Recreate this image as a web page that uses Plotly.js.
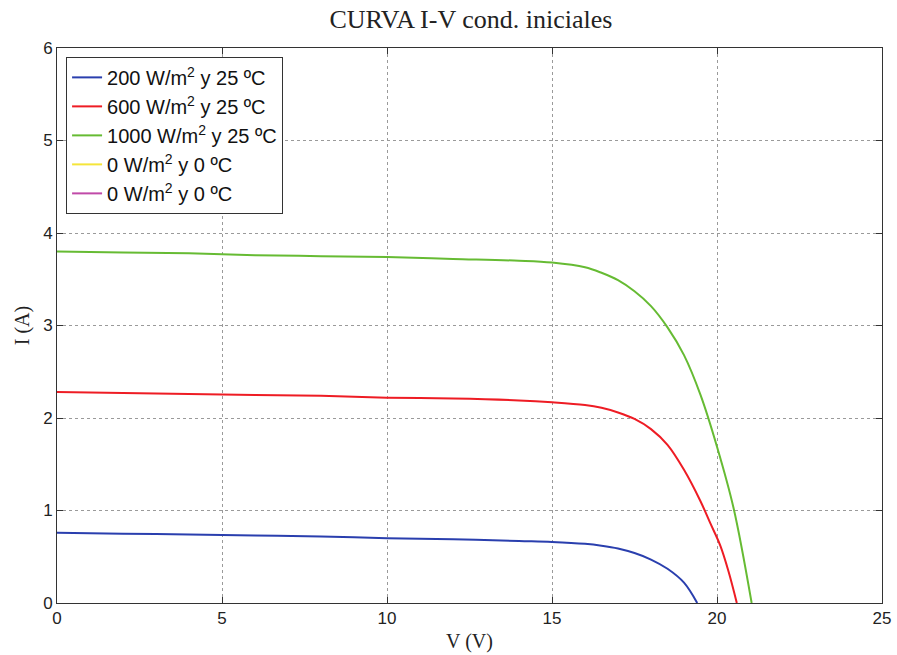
<!DOCTYPE html>
<html>
<head>
<meta charset="utf-8">
<script src="https://cdn.plot.ly/plotly-3.0.1.min.js"></script>
<style>html,body{margin:0;padding:0;background:#fff;}#chart{width:897px;height:655px;}</style>
</head>
<body>
<div id="chart"></div>
<script>
var seriesNames = ["200 W/m<sup>2</sup> y 25 ºC", "600 W/m<sup>2</sup> y 25 ºC", "1000 W/m<sup>2</sup> y 25 ºC", "0 W/m<sup>2</sup> y 0 ºC", "0 W/m<sup>2</sup> y 0 ºC"];
var seriesColors = ["#2a3fae", "#ee1c24", "#66bb33", "#f5e53a", "#c04aa8"];

var v200 = [0, 2, 4, 6, 8, 10, 12, 14, 15, 16, 16.5, 17, 17.5, 18, 18.5, 19, 19.4];
var i200 = [0.76, 0.75, 0.74, 0.73, 0.72, 0.70, 0.69, 0.67, 0.66, 0.64, 0.62, 0.59, 0.54, 0.47, 0.37, 0.22, 0.0];

var v600 = [0, 2, 4, 6, 8, 10, 12, 14, 15, 16, 16.5, 17, 17.5, 18, 18.5, 19, 19.5, 19.8, 20.1, 20.35, 20.6];
var i600 = [2.28, 2.27, 2.26, 2.25, 2.24, 2.22, 2.21, 2.19, 2.17, 2.14, 2.11, 2.06, 1.99, 1.88, 1.71, 1.44, 1.10, 0.86, 0.62, 0.34, 0.0];

var v1000 = [0, 2, 4, 6, 8, 10, 12, 14, 15, 16, 16.5, 17, 17.5, 18, 18.5, 19, 19.5, 20, 20.5, 21.05];
var i1000 = [3.80, 3.79, 3.78, 3.76, 3.75, 3.74, 3.72, 3.70, 3.68, 3.63, 3.57, 3.49, 3.37, 3.21, 2.98, 2.68, 2.25, 1.69, 1.03, 0.0];

// zero-irradiance series: I = 0 A, lying outside the visible window
var vZero = [-2, -1];
var iZero = [-1, -1];

var xs = [v200, v600, v1000, vZero, vZero];
var ys = [i200, i600, i1000, iZero, iZero];

var traces = xs.map(function (x, k) {
  return {
    type: "scatter", mode: "lines", x: x, y: ys[k], name: seriesNames[k],
    line: {color: seriesColors[k], width: 2, shape: "spline", smoothing: 1}
  };
});

var axisCommon = {
  showline: true, linecolor: "#333", linewidth: 1, mirror: "ticks",
  ticks: "inside", ticklen: 6, tickcolor: "#333",
  showgrid: true, gridcolor: "#9a9a9a", griddash: "dot", gridwidth: 1,
  zeroline: false,
  tickfont: {family: "Liberation Sans, Arial, sans-serif", size: 17, color: "#222"}
};

var layout = {
  width: 897, height: 655,
  margin: {l: 57, r: 15, t: 48, b: 52},
  paper_bgcolor: "#fff", plot_bgcolor: "#fff",
  title: {text: "CURVA I-V cond. iniciales", x: 0.525, xanchor: "center", y: 0.985, yanchor: "top",
    font: {family: "Liberation Serif, Times New Roman, serif", size: 26, color: "#222"}},
  xaxis: Object.assign({}, axisCommon, {range: [0, 25], dtick: 5,
    title: {text: "V (V)", standoff: 6, font: {family: "Liberation Serif, Times New Roman, serif", size: 20, color: "#222"}}}),
  yaxis: Object.assign({}, axisCommon, {range: [0, 6], dtick: 1,
    title: {text: "I (A)", standoff: 8, font: {family: "Liberation Serif, Times New Roman, serif", size: 20, color: "#222"}}}),
  showlegend: true,
  legend: {x: 0.011, y: 0.984, xanchor: "left", yanchor: "top",
    bgcolor: "#fff", bordercolor: "#333", borderwidth: 1,
    font: {family: "Liberation Sans, Arial, sans-serif", size: 20, color: "#111"}}
};

Plotly.newPlot("chart", traces, layout, {displayModeBar: false, staticPlot: true});
</script>
</body>
</html>
